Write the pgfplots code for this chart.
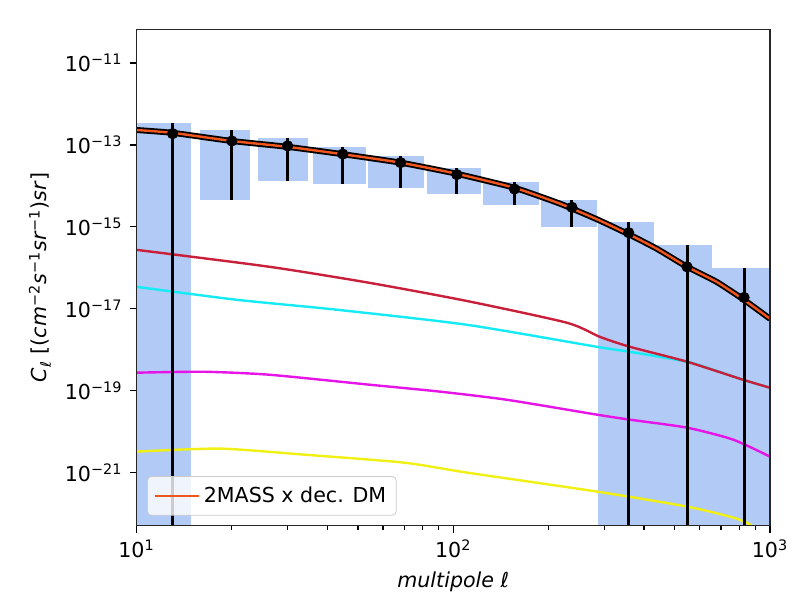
\documentclass[border=0pt]{standalone}
\usepackage{fontspec}
\setmainfont{DejaVu Sans}
\usepackage{pgfplots}
\pgfplotsset{compat=1.18}
\definecolor{barblue}{RGB}{177,202,246}
\definecolor{cred}{RGB}{200,32,58}
\definecolor{ccyan}{RGB}{20,235,245}
\definecolor{cmag}{RGB}{230,20,230}
\definecolor{cyel}{RGB}{240,240,20}
\definecolor{corange}{RGB}{240,85,30}
\begin{document}
\begin{tikzpicture}
\useasboundingbox (-68.25pt,-39.5pt) rectangle (334.75pt,262.75pt);
\begin{axis}[
  scale only axis, width=316.75pt, height=248pt,
  axis on top,
  xmode=log, ymode=log, log basis x=10, log basis y=10,
  xmin=10, xmax=1000, ymin=5.1e-23, ymax=6.6e-11,
  xtick={10,100,1000},
  minor xtick={20,30,40,50,60,70,80,90,200,300,400,500,600,700,800,900},
  ytick={1e-21,1e-19,1e-17,1e-15,1e-13,1e-11},
  minor ytick={},
  tick pos=left, tick align=outside,
  major tick length=3.5pt, minor tick length=2pt,
  tick style={black, line width=0.6pt},
  axis line style={line width=0.8pt, black!85},
  xticklabel={\pgfmathtruncatemacro\e{round(\tick)}10\textsuperscript{\e}},
  yticklabel={\pgfmathtruncatemacro\e{round(\tick)}10\textsuperscript{\ifnum\e<0 −\number-\e\else\e\fi}},
  ticklabel style={font=\fontsize{10.3}{12}\selectfont},
  xlabel={\textit{multipole ℓ}},
  ylabel={\textit{C}\textsubscript{\textit{ℓ}} [(\textit{cm}\textsuperscript{−2}\textit{s}\textsuperscript{−1}\textit{sr}\textsuperscript{−1})\textit{sr}]},
  label style={font=\fontsize{10.3}{12}\selectfont},
  y label style={at={(axis description cs:-0.1523,0.5)}, anchor=center},
  legend style={at={(0.0166,0.02)}, anchor=south west, draw=black!20, rounded corners=2pt,
    fill=white, fill opacity=0.8, text opacity=1, font=\fontsize{10.3}{12}\selectfont,
    inner xsep=3pt, inner ysep=3pt},
  legend cell align=left,
  legend image code/.code={\draw[#1] (0pt,0pt) -- (22pt,0pt);},
]
% bands (error extents)
\addplot[fill=barblue, draw=none, forget plot] coordinates {(9,3.4e-13) (14.9,3.4e-13) (14.9,1e-23) (9,1e-23)} -- cycle;
\addplot[fill=barblue, draw=none, forget plot] coordinates {(15.9,2.3e-13) (22.9,2.3e-13) (22.9,4.5e-15) (15.9,4.5e-15)} -- cycle;
\addplot[fill=barblue, draw=none, forget plot] coordinates {(24.1,1.5e-13) (34.9,1.5e-13) (34.9,1.33e-14) (24.1,1.33e-14)} -- cycle;
\addplot[fill=barblue, draw=none, forget plot] coordinates {(36,9.0e-14) (53,9.0e-14) (53,1.1e-14) (36,1.1e-14)} -- cycle;
\addplot[fill=barblue, draw=none, forget plot] coordinates {(54,5.4e-14) (80.7,5.4e-14) (80.7,9.0e-15) (54,9.0e-15)} -- cycle;
\addplot[fill=barblue, draw=none, forget plot] coordinates {(82.4,2.75e-14) (122,2.75e-14) (122,6.4e-15) (82.4,6.4e-15)} -- cycle;
\addplot[fill=barblue, draw=none, forget plot] coordinates {(124,1.25e-14) (186,1.25e-14) (186,3.4e-15) (124,3.4e-15)} -- cycle;
\addplot[fill=barblue, draw=none, forget plot] coordinates {(189,4.5e-15) (284,4.5e-15) (284,1.0e-15) (189,1.0e-15)} -- cycle;
\addplot[fill=barblue, draw=none, forget plot] coordinates {(286,1.33e-15) (430,1.33e-15) (430,1e-23) (286,1e-23)} -- cycle;
\addplot[fill=barblue, draw=none, forget plot] coordinates {(431,3.7e-16) (656,3.7e-16) (656,1e-23) (431,1e-23)} -- cycle;
\addplot[fill=barblue, draw=none, forget plot] coordinates {(658,1.0e-16) (1100,1.0e-16) (1100,1e-23) (658,1e-23)} -- cycle;
% model curves
\addplot[cyel, line width=1.2pt, smooth, tension=0.4, forget plot] coordinates {
 (10,3.25e-21) (18.3,3.85e-21) (33.7,2.75e-21) (69.8,1.75e-21) (110.4,1.0e-21)
 (284,3.44e-22) (547,1.48e-22) (764,8.0e-23) (865,5.4e-23) (1000,2.3e-23)};
\addplot[cmag, line width=1.2pt, smooth, tension=0.4, forget plot] coordinates {
 (10,2.75e-19) (16.3,2.9e-19) (26.3,2.45e-19) (54.4,1.40e-19) (90.6,9.5e-20) (147.6,6.0e-20)
 (284,2.6e-20) (361,1.96e-20) (547,1.25e-20) (764,6.4e-21) (1000,2.45e-21)};
\addplot[ccyan, line width=1.2pt, smooth, tension=0.4, forget plot] coordinates {
 (10,3.44e-17) (20.7,1.66e-17) (42.8,9.5e-18) (110.4,4.07e-18) (284,1.18e-18) (361,8.9e-19)
 (547,5.1e-19) (661,3.25e-19) (822,1.85e-19) (1000,1.18e-19)};
\addplot[cred, line width=1.2pt, smooth, tension=0.4, forget plot] coordinates {
 (10,2.75e-16) (26.3,1.06e-16) (54.4,4.3e-17) (110.4,1.55e-17) (228.5,4.56e-18)
 (290,2.07e-18) (361,1.18e-18) (547,5.1e-19) (822,1.85e-19) (1000,1.18e-19)};
% error bars
\addplot[black, line width=1.5pt, forget plot] coordinates {(13,3.4e-13) (13,1e-23)};
\addplot[black, line width=1.5pt, forget plot] coordinates {(20,2.3e-13) (20,4.5e-15)};
\addplot[black, line width=1.5pt, forget plot] coordinates {(30,1.5e-13) (30,1.33e-14)};
\addplot[black, line width=1.5pt, forget plot] coordinates {(44.8,9.0e-14) (44.8,1.1e-14)};
\addplot[black, line width=1.5pt, forget plot] coordinates {(68.2,5.4e-14) (68.2,9.0e-15)};
\addplot[black, line width=1.5pt, forget plot] coordinates {(102.6,2.75e-14) (102.6,6.4e-15)};
\addplot[black, line width=1.5pt, forget plot] coordinates {(156,1.25e-14) (156,3.4e-15)};
\addplot[black, line width=1.5pt, forget plot] coordinates {(237,4.5e-15) (237,1.0e-15)};
\addplot[black, line width=1.5pt, forget plot] coordinates {(358,1.33e-15) (358,1e-23)};
\addplot[black, line width=1.5pt, forget plot] coordinates {(547,3.7e-16) (547,1e-23)};
\addplot[black, line width=1.5pt, forget plot] coordinates {(828,1.0e-16) (828,1e-23)};
% data points
\addplot[only marks, mark=*, mark size=2.6pt, black, forget plot] coordinates {
 (13,1.89e-13) (20,1.25e-13) (30,9.5e-14) (44.8,6.0e-14) (68.2,3.7e-14) (102.6,1.89e-14)
 (156,8.4e-15) (237,3.0e-15) (358,7.2e-16) (547,1.06e-16) (828,1.89e-17)};
% total model
\addplot[black, line width=3pt, line join=round, smooth, tension=0.3, forget plot] coordinates {
 (10,2.32e-13) (13,1.98e-13) (20,1.25e-13) (30,9.0e-14) (44.8,5.95e-14) (68.2,3.7e-14)
 (102.6,1.98e-14) (156,9.0e-15) (217,3.7e-15) (286,1.5e-15) (361,6.4e-16) (439,2.93e-16)
 (547,1.06e-16) (680,4.5e-17) (828,1.65e-17) (1000,5.7e-18)};
\addplot[corange, line width=1.2pt, line join=round, smooth, tension=0.3] coordinates {
 (10,2.32e-13) (13,1.98e-13) (20,1.25e-13) (30,9.0e-14) (44.8,5.95e-14) (68.2,3.7e-14)
 (102.6,1.98e-14) (156,9.0e-15) (217,3.7e-15) (286,1.5e-15) (361,6.4e-16) (439,2.93e-16)
 (547,1.06e-16) (680,4.5e-17) (828,1.65e-17) (1000,5.7e-18)};
\addlegendentry{2MASS x dec. DM}
\end{axis}
\end{tikzpicture}
\end{document}
